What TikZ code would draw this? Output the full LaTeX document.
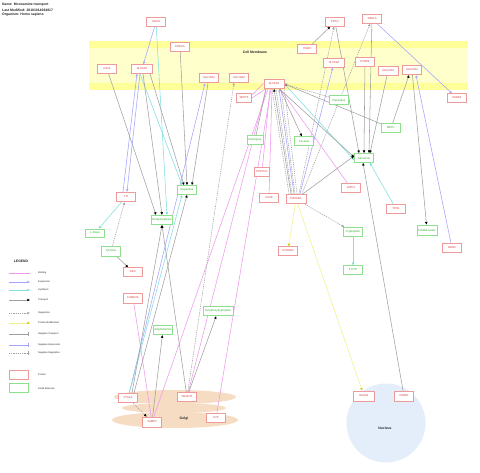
\documentclass[tikz,border=0pt]{standalone}
\usepackage{fontspec}
\setmainfont{Liberation Sans}
\usetikzlibrary{arrows.meta,backgrounds}
\definecolor{protline}{HTML}{EE9A9A}
\definecolor{prottext}{HTML}{D83A3A}
\definecolor{molline}{HTML}{8EE08E}
\definecolor{moltext}{HTML}{22AA22}
\definecolor{bindline}{HTML}{EE99EE}
\definecolor{exprline}{HTML}{A3A3FF}
\definecolor{synthline}{HTML}{7FE0E0}
\definecolor{transline}{HTML}{A0A0A0}
\definecolor{pmodline}{HTML}{F2F08C}
\definecolor{pmodtip}{HTML}{D8CC00}
\definecolor{membout}{HTML}{FFFF99}
\definecolor{membin}{HTML}{FFFFCC}
\definecolor{golgifill}{HTML}{F7DCC4}
\definecolor{nucfill}{HTML}{E3EEFA}
\definecolor{ink}{HTML}{222222}
\tikzset{
  % ---- data nodes ------------------------------------------------
  prot/.style     = {rectangle, draw=protline, line width=.9pt, fill=white,
                     text=prottext, minimum width=19pt, minimum height=8.5pt,
                     inner sep=.5pt, font=\fontsize{2.8}{3}\selectfont},
  mol/.style      = {prot, draw=molline, text=moltext},
  % ---- compartments ----------------------------------------------
  comptag/.style  = {font=\fontsize{3.4}{4}\selectfont\bfseries, text=ink},
  hdr/.style      = {font=\fontsize{3.4}{4}\selectfont\bfseries, text=ink,
                     anchor=west, inner sep=0pt},
  % ---- interactions ----------------------------------------------
  bind/.style     = {draw=bindline, line width=.55pt},
  expr/.style     = {draw=exprline, line width=.55pt,
                     -{Triangle[open,length=2.6pt,width=2.4pt]}},
  synth/.style    = {draw=synthline, line width=.55pt,
                     -{Triangle[length=2.6pt,width=2.4pt]}},
  trans/.style    = {draw=transline, line width=.55pt,
                     -{Triangle[length=2.6pt,width=2.4pt,color=black]}},
  regul/.style    = {draw=transline, line width=.55pt, dash pattern=on 1.2pt off 1pt,
                     -{Triangle[open,length=2.6pt,width=2.4pt]}},
  pmod/.style     = {draw=pmodline, line width=.55pt,
                     -{Triangle[length=2.6pt,width=2.4pt,color=pmodtip]}},
  negtrans/.style = {draw=transline, line width=.55pt, -{Bar[width=4.5pt]}},
  negexpr/.style  = {draw=exprline, line width=.55pt, -{Bar[width=4.5pt]}},
  negreg/.style   = {regul, -{Bar[width=4.5pt]}},
  % ---- legend ----------------------------------------------------
  legtxt/.style   = {font=\fontsize{2.4}{3}\selectfont, text=ink, anchor=west,
                     inner sep=0pt},
}

\begin{document}
\begin{tikzpicture}[x=1pt,y=-1pt]
  \useasboundingbox (0,0) rectangle (480,472);
  \begin{scope}[on background layer]
    \fill[white] (0,0) rectangle (480,472);
    \fill[membout] (89,41) rectangle (468,90);
    \fill[membin] (89,48) rectangle (468,83);
    \fill[golgifill] (175,397) ellipse [x radius=61pt, y radius=7pt];
    \fill[golgifill] (174,408) ellipse [x radius=52pt, y radius=5pt];
    \fill[golgifill] (175,420) ellipse [x radius=63pt, y radius=8pt];
    \fill[nucfill] (386,423) circle [radius=39.5pt];
  \end{scope}
  % header
  \node[hdr] (title) at (2,5) {Name: Monoamine transport};
  \node[hdr] (modif) at (2,10) {Last Modified: 20101014064817};
  \node[hdr] (organism) at (2,15) {Organism: Homo sapiens};
  \node[comptag] (membtag) at (255,52) {Cell Membrane};
  \node[comptag] (golgitag) at (184,419) {Golgi};
  \node[comptag] (nuctag) at (385,428) {Nucleus};
  % proteins
  \node[prot] (snca) at (156,22) {SNCA};
  \node[prot] (prkca) at (180,47) {PRKCA};
  \node[prot] (cav) at (107,69) {CAV2};
  \node[prot, minimum width=21pt] (net) at (142,69) {SLC6A2};
  \node[prot, minimum height=9.5pt] (vmatA) at (209,78) {SLC18A1};
  \node[prot] (vmatB) at (239,78) {SLC18A2};
  \node[prot, minimum width=15pt] (sept) at (244,98) {SEPT5};
  \node[prot, minimum width=20pt, minimum height=9pt] (dat) at (274,84) {SLC6A3};
  \node[prot] (itgb) at (307,49) {ITGB3};
  \node[prot] (pick) at (335,22) {PICK1};
  \node[prot] (tor) at (372,19) {TOR1A};
  \node[prot, minimum width=21pt] (sert) at (334,63) {SLC6A4};
  \node[prot] (htr) at (365,62) {HTR1B};
  \node[prot, minimum width=20pt, minimum height=9pt] (octA) at (388,71) {SLC22A3};
  \node[prot, minimum height=9.5pt] (octB) at (412,70) {SLC22A1};
  \node[prot] (park) at (457,98) {PARK2};
  \node[prot, minimum width=15pt, minimum height=9pt] (ppp) at (262,172) {PPP2CA};
  \node[prot, minimum height=9.5pt] (cask) at (269,198) {CASK};
  \node[prot, minimum width=20pt, minimum height=9.5pt] (prkcb) at (296,199) {PRKCB1};
  \node[prot] (syngr) at (288,251) {SYNGR3};
  \node[prot, minimum height=9.5pt] (gipc) at (351,188) {GIPC1};
  \node[prot, minimum height=9.5pt] (tph) at (396,209) {TPH1};
  \node[prot, minimum height=9.5pt] (gdnf) at (452,248) {GDNF};
  \node[prot, minimum height=9.5pt] (th) at (126,197) {TH};
  \node[prot] (ddc) at (133,272) {DDC};
  \node[prot, minimum height=10pt] (camk) at (133,298) {CAMK2A};
  \node[prot, minimum height=9.5pt] (stx) at (128,398) {STX1A};
  \node[prot, minimum height=9.5pt] (snap) at (187,397) {SNAP25};
  \node[prot, minimum height=10pt] (vamp) at (152,422) {VAMP2};
  \node[prot, minimum height=9.5pt] (syp) at (216,418) {SYP};
  \node[prot, minimum width=21pt, minimum height=10pt] (nurr) at (364,396) {NR4A2};
  \node[prot, minimum height=10pt] (creb) at (404,396) {CREB1};
  % small molecules
  \node[mol] (fluox) at (339,100) {Fluoxetine};
  \node[mol, minimum width=16pt] (reserp) at (255,140) {Reserpine};
  \node[mol] (cocaine) at (304,141) {Cocaine};
  \node[mol, minimum height=9pt] (dopa) at (187,190) {Dopamine};
  \node[mol, minimum width=20pt, minimum height=9.5pt] (norepi) at (162,220) {Norepinephrine};
  \node[mol] (mpp) at (391,128) {MPP+};
  \node[mol, minimum height=9pt] (sero) at (364,158) {Serotonin};
  \node[mol, minimum height=9pt] (trp) at (353,232) {Tryptophan};
  \node[mol] (htp) at (353,270) {5-HTP};
  \node[mol, minimum width=20pt, minimum height=10pt] (tbz) at (427,230) {Tetrabenazine};
  \node[mol, minimum height=8pt] (ldopa) at (95,233) {L-Dopa};
  \node[mol, minimum height=10pt] (tyr) at (111,251) {Tyrosine};
  \node[mol, minimum width=30pt, minimum height=9.5pt] (hydtrp) at (218,311) {5-Hydroxytryptophan};
  \node[mol, minimum height=9.5pt] (amph) at (163,330) {Amphetamine};
  % legend
  \node[comptag] (legtag) at (21,261) {LEGEND};
  \coordinate (lbindA) at (9,273);  \coordinate (lbindB) at (30,273);
  \coordinate (lexprA) at (9,282);  \coordinate (lexprB) at (30,282);
  \coordinate (lsynA) at (9,290);   \coordinate (lsynB) at (30,290);
  \coordinate (ltrA) at (9,300);    \coordinate (ltrB) at (30,300);
  \coordinate (lregA) at (9,313);   \coordinate (lregB) at (30,313);
  \coordinate (lpmA) at (9,323);    \coordinate (lpmB) at (30,323);
  \coordinate (lntA) at (9,334);    \coordinate (lntB) at (29,334);
  \coordinate (lneA) at (9,345);    \coordinate (lneB) at (29,345);
  \coordinate (lnrA) at (9,353);    \coordinate (lnrB) at (29,353);
  \node[legtxt] (lbind) at (38,273) {Binding};
  \node[legtxt] (lexpr) at (38,282) {Expression};
  \node[legtxt] (lsyn) at (38,290) {Synthesis};
  \node[legtxt] (ltr) at (38,300) {Transport};
  \node[legtxt] (lreg) at (38,313) {Regulation};
  \node[legtxt] (lpm) at (38,323) {Protein Modification};
  \node[legtxt] (lnt) at (38,334) {Negative Transport};
  \node[legtxt] (lne) at (38,345) {Negative Expression};
  \node[legtxt] (lnr) at (38,353) {Negative Regulation};
  \node[prot] (lprot) at (18.5,375) {};
  \node[mol] (lmol) at (18.5,388) {};
  \node[legtxt] (lprottxt) at (38,375) {Protein};
  \node[legtxt] (lmoltxt) at (38,389) {Small Molecule};
  \begin{scope}[on background layer]
    \draw[bind] (lbindA) -- (lbindB);
    \draw[expr] (lexprA) -- (lexprB);
    \draw[synth] (lsynA) -- (lsynB);
    \draw[trans] (ltrA) -- (ltrB);
    \draw[regul] (lregA) -- (lregB);
    \draw[pmod] (lpmA) -- (lpmB);
    \draw[negtrans] (lntA) -- (lntB);
    \draw[negexpr] (lneA) -- (lneB);
    \draw[negreg] (lnrA) -- (lnrB);
    % binding
    \draw[bind] ([xshift=-6pt]dat.south) -- (vamp);
    \draw[bind] ([xshift=-3pt]dat.south) -- (syp);
    \draw[bind] ([xshift=-8pt]dat.south) -- (snap);
    \draw[bind] (camk) -- (vamp);
    \draw[bind] ([yshift=-2pt]sept.north east) -- ([yshift=1pt]dat.west);
    \draw[bind] (sept.east) -- ([xshift=2pt]dat.south west);
    \draw[bind] ([xshift=-4pt]dat.south) -- (ppp);
    \draw[bind] ([xshift=-2pt]dat.south) -- (cask);
    \draw[bind] ([xshift=6pt]dat.south) -- (gipc);
    % expression
    \draw[expr] (snca) -- (net);
    \draw[expr] ([xshift=-3pt]th.north) -- ([xshift=-5pt]net.south);
    \draw[expr] ([xshift=-2pt]net.south) -- ([xshift=1pt]th.north);
    \draw[expr] (stx) -- ([xshift=-4pt]vmatA.south);
    \draw[expr] ([xshift=-2pt]prkcb.north) -- ([xshift=5pt]dat.south);
    \draw[expr] ([xshift=4pt]prkcb.north) -- (sert);
    \draw[expr] (tor) -- (park);
    \draw[expr] (gdnf) -- ([xshift=4pt]octB.south);
    % synthesis
    \draw[synth] (snca) -- ([xshift=5pt]norepi.north);
    \draw[synth] ([xshift=-2pt]net.south) -- ([xshift=-5pt]dopa.north);
    \draw[synth] (stx) -- ([xshift=-5pt]dopa.south);
    \draw[synth] (th) -- (ldopa);
    \draw[synth] (trp) -- (htp);
    \draw[synth] (tph) -- ([xshift=6pt]sero.south);
    \draw[synth] (dat.east) -- ([yshift=-2pt]sero.west);
    % transport
    \draw[trans] (cav) -- ([xshift=-6pt]norepi.north);
    \draw[trans] ([xshift=1pt]net.south) -- (norepi.north);
    \draw[trans] ([xshift=8pt]net.south) -- ([xshift=-3pt]dopa.north);
    \draw[trans] (prkca) -- (dopa.north);
    \draw[trans] ([xshift=-1pt]vmatA.south) -- ([xshift=5pt]dopa.north);
    \draw[trans] ([xshift=4pt]stx.north) -- (norepi.south);
    \draw[trans] ([xshift=6pt]stx.north) -- (dopa.south);
    \draw[trans] (snap) -- (norepi.south);
    \draw[trans] (vamp) -- (amph);
    \draw[trans] (snap) -- (hydtrp);
    \draw[trans] ([xshift=-5pt]prkcb.north) -- ([xshift=0pt]dat.south);
    \draw[trans] (prkcb) -- ([yshift=2pt]sero.west);
    \draw[trans] (dat) -- ([yshift=1pt]sero.west);
    \draw[trans] (pick) -- ([xshift=-5pt]sero.north);
    \draw[trans] (htr) -- (sero.north);
    \draw[trans] (tor) -- ([xshift=5pt]sero.north);
    \draw[trans] (octA) -- ([xshift=6pt]sero.north);
    \draw[trans] (creb) -- ([xshift=-1pt]sero.south);
    \draw[trans] (octB) -- (tbz);
    \draw[trans] ([xshift=6pt]dat.south) -- (cocaine);
    \draw[trans] (itgb) -- (pick);
    \draw[trans] (mpp) -- ([xshift=-3pt]octB.south);
    \draw[trans] (mpp) -- (dat.east);
    \draw[trans] (tyr) -- (ddc);
    \draw[transline, line width=.55pt] ([xshift=-8pt]dat.south) -- (reserp);
    % regulation
    \draw[regul] (tyr) -- (th);
    \draw[regul] (snap) -- ([xshift=-5pt]vmatB.south);
    \draw[regul, -{Triangle[length=2.6pt,width=2.4pt,color=black]}] (stx) -- (vamp);
    \draw[regul] (fluox) -- (dat.east);
    \draw[regul, -] ([xshift=-7pt]prkcb.north) -- ([xshift=-2pt]dat.south);
    \draw[regul, -] ([xshift=-4pt]prkcb.north) -- ([xshift=2pt]dat.south);
    \draw[regul, -] ([xshift=-1pt]prkcb.north) -- ([xshift=7pt]dat.south);
    \draw[regul, -] ([xshift=1pt]prkcb.north) -- (dat.south east);
    \draw[regul] ([xshift=3pt]prkcb.north) -- (pick);
    \draw[regul] ([xshift=6pt]prkcb.north) -- (tor);
    \draw[regul] (prkcb) -- (trp);
    % protein modification
    \draw[pmod] (prkcb) -- (syngr);
    \draw[pmod] (prkcb) -- (nurr);
  \end{scope}
\end{tikzpicture}
\end{document}
